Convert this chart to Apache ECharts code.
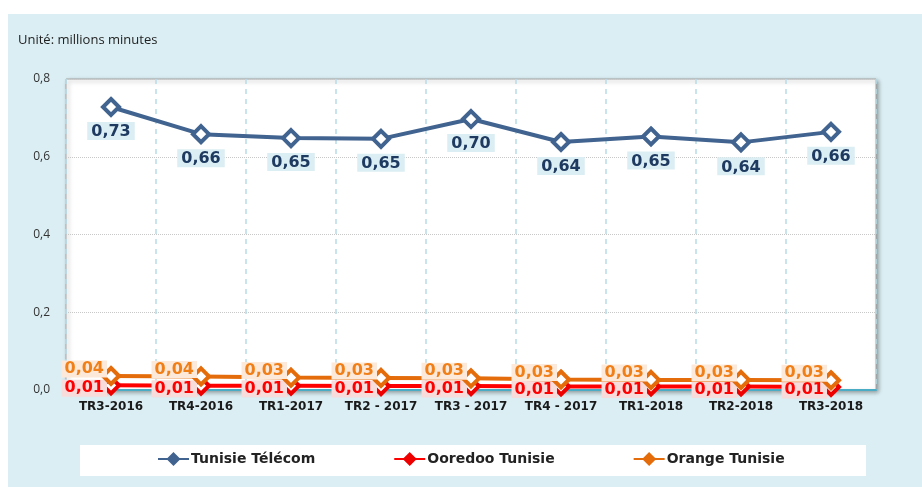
<!DOCTYPE html>
<html><head><meta charset="utf-8">
<script src="https://cdn.jsdelivr.net/npm/echarts@6/dist/echarts.min.js"></script>
<style>html,body{margin:0;padding:0;background:#fff}#c{width:922px;height:487px}</style>
</head><body><div id="c"></div>
<script>
var categories = ['TR3-2016','TR4-2016','TR1-2017','TR2 - 2017','TR3 - 2017','TR4 - 2017','TR1-2018','TR2-2018','TR3-2018'];
var telecom = [0.728, 0.658, 0.648, 0.646, 0.697, 0.638, 0.652, 0.637, 0.664];
var ooredoo = [0.012, 0.011, 0.011, 0.010, 0.010, 0.009, 0.009, 0.009, 0.008];
var orange = [0.036, 0.035, 0.032, 0.031, 0.030, 0.027, 0.026, 0.026, 0.025];
var yTicks = [0, 0.2, 0.4, 0.6, 0.8];

var chart = echarts.init(document.getElementById('c'));
function fmt(v){ return v.toFixed(2).replace('.', ','); }
var F = 'Verdana, "DejaVu Sans", sans-serif';
chart.setOption({
  animation: false,
  graphic: [
    {type:'rect', z:-10, shape:{x:8,y:14,width:914,height:473}, style:{fill:'#dbeef3'}},
    {type:'rect', z:-5, shape:{x:80,y:445,width:786,height:31}, style:{fill:'#ffffff'}},
    {type:'text', left:18, top:34, style:{text:'Unité: millions minutes', font:'13px "Open Sans", sans-serif', fill:'#222'}}
  ],
  grid: {left:66, right:46, top:79, bottom:97, show:true, backgroundColor:'#ffffff', borderColor:'#a6a6a6', borderWidth:1,
         shadowColor:'rgba(0,0,0,0.35)', shadowBlur:4, shadowOffsetX:2, shadowOffsetY:2},
  legend: {
    bottom: 16, left: 152, itemGap: 78, itemWidth: 31, itemHeight: 14,
    textStyle:{fontSize:14, fontWeight:'bold', color:'#222', fontFamily:F, padding:[0,0,0,-3]},
    data:[
      {name:'Tunisie Télécom', itemStyle:{color:'#41638f', borderColor:'#41638f'}},
      {name:'Ooredoo Tunisie', itemStyle:{color:'#ee0000', borderColor:'#ee0000'}},
      {name:'Orange Tunisie', itemStyle:{color:'#e46c0a', borderColor:'#e46c0a'}}
    ]
  },
  xAxis: {
    type:'category', data: categories, boundaryGap:true,
    axisLine:{show:true, lineStyle:{color:'#4bacc6', width:2}},
    axisTick:{show:false},
    axisLabel:{color:'#1a1a1a', fontWeight:'bold', fontSize:12, margin:11, fontFamily:F, interval:0},
    splitLine:{show:true, interval:0, lineStyle:{color:'#b7dde8', type:[5,5], width:1.5}}
  },
  yAxis: {
    type:'value', min:0, max:0.8, interval:0.2,
    axisLine:{show:false}, axisTick:{show:false},
    axisLabel:{color:'#333', fontSize:12, margin:16, fontFamily:'"Open Sans", sans-serif',
      formatter:function(v){ return v.toFixed(1).replace('.', ','); }},
    splitLine:{show:true, lineStyle:{color:'#c8c8c8', type:'dotted'}}
  },
  series: [
    {name:'Tunisie Télécom', type:'line', data: telecom, symbol:'diamond', symbolSize:16, z:5,
     lineStyle:{color:'#41638f', width:4},
     itemStyle:{color:'#ffffff', borderColor:'#41638f', borderWidth:4},
     label:{show:true, position:'bottom', distance:5, formatter:function(p){return fmt(p.value);},
       color:'#1f3a60', fontWeight:'bold', fontSize:16, backgroundColor:'#dbeef3', padding:[2,4,0,4], fontFamily:F}},
    {name:'Orange Tunisie', type:'line', data: orange, symbol:'diamond', symbolSize:16, z:4,
     lineStyle:{color:'#e46c0a', width:4},
     itemStyle:{color:'#ffffff', borderColor:'#e46c0a', borderWidth:4},
     label:{show:true, position:'left', distance:-6, offset:[0,-7], formatter:function(p){return fmt(p.value);},
       color:'#f07f18', fontWeight:'bold', fontSize:16, backgroundColor:'#fde9d9', padding:[1,3,0,3], fontFamily:F}},
    {name:'Ooredoo Tunisie', type:'line', data: ooredoo, symbol:'diamond', symbolSize:16, z:3,
     lineStyle:{color:'#ff0000', width:4},
     itemStyle:{color:'#ffffff', borderColor:'#ee0000', borderWidth:4},
     label:{show:true, position:'left', distance:-6, offset:[0,3], formatter:function(p){return fmt(p.value);},
       color:'#ff0000', fontWeight:'bold', fontSize:16, backgroundColor:'#f8dcdc', padding:[1,3,0,3], fontFamily:F}}
  ]
});
</script></body></html>
